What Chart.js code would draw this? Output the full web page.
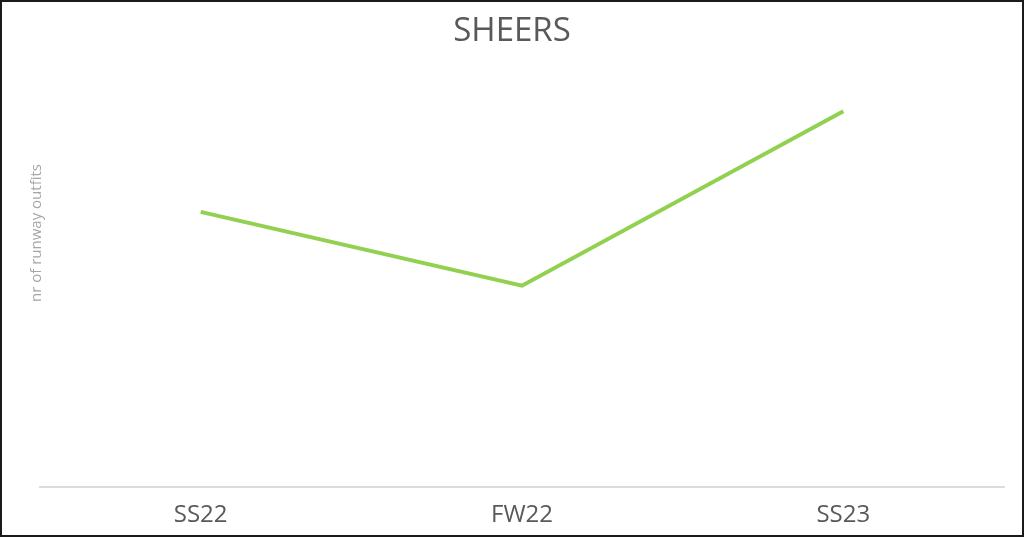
<!DOCTYPE html>
<html lang="en">
<head>
    <meta charset="UTF-8">
    <title>Sheers</title>
    <script src="https://cdn.jsdelivr.net/npm/chart.js@4.4.0/dist/chart.umd.min.js"></script>
    <style>
        body { margin: 0; background: #fff; }
        #wrap { position: relative; width: 1024px; height: 537px; }
        #sheers-chart { display: block; }
        #frame {
            position: absolute; left: 0; top: 0; right: 0; bottom: 0;
            border: 2px solid #1a1a1a; pointer-events: none;
        }
    </style>
</head>
<body>
    <div id="wrap">
        <canvas id="sheers-chart" width="1024" height="537"></canvas>
        <div id="frame"></div>
    </div>

    <script>
        // seasons and number of runway outfits
        const seasons = ['SS22', 'FW22', 'SS23'];
        const outfits = [41, 30, 56];
        const chartTitle = 'SHEERS';
        const yTitle = 'nr of runway outfits';

        // y axis title sits a bit higher than the plot centre, so draw it by hand
        const yTitlePlugin = {
            id: 'yTitle',
            afterDraw(chart) {
                const ctx = chart.ctx;
                ctx.save();
                ctx.translate(37, 233);
                ctx.rotate(-Math.PI / 2);
                ctx.font = '15px "Open Sans"';
                ctx.fillStyle = '#a6a6a6';
                ctx.textAlign = 'center';
                ctx.textBaseline = 'middle';
                ctx.fillText(yTitle, 0, 0);
                ctx.restore();
            }
        };

        new Chart(document.getElementById('sheers-chart'), {
            type: 'line',
            data: {
                labels: seasons,
                datasets: [{
                    label: chartTitle,
                    data: outfits,
                    borderColor: '#92d050',
                    borderWidth: 4,
                    pointRadius: 0,
                    tension: 0,
                    clip: false
                }]
            },
            options: {
                responsive: false,
                animation: false,
                layout: { padding: { left: 20, right: 20, bottom: 9, top: 0 } },
                plugins: {
                    legend: { display: false },
                    tooltip: { enabled: false },
                    title: {
                        display: true,
                        text: chartTitle,
                        color: '#595959',
                        font: { family: '"Open Sans"', size: 33, weight: 'normal', lineHeight: 1.2 },
                        padding: { top: 12, bottom: 6 }
                    }
                },
                scales: {
                    x: {
                        offset: true,
                        grid: { drawOnChartArea: false, drawTicks: false, color: 'transparent' },
                        border: { display: true, color: '#dcdcdc', width: 2 },
                        ticks: {
                            color: '#595959',
                            padding: 14,
                            font: { family: '"Open Sans"', size: 24, lineHeight: 1.2 }
                        },
                        afterFit(scale) { scale.height = 41; }
                    },
                    y: {
                        min: 0,
                        max: 64,
                        display: true,
                        grid: { display: false },
                        border: { display: false },
                        ticks: { display: false },
                        afterFit(scale) { scale.width = 20; }
                    }
                }
            },
            plugins: [yTitlePlugin]
        });
    </script>
</body>
</html>
